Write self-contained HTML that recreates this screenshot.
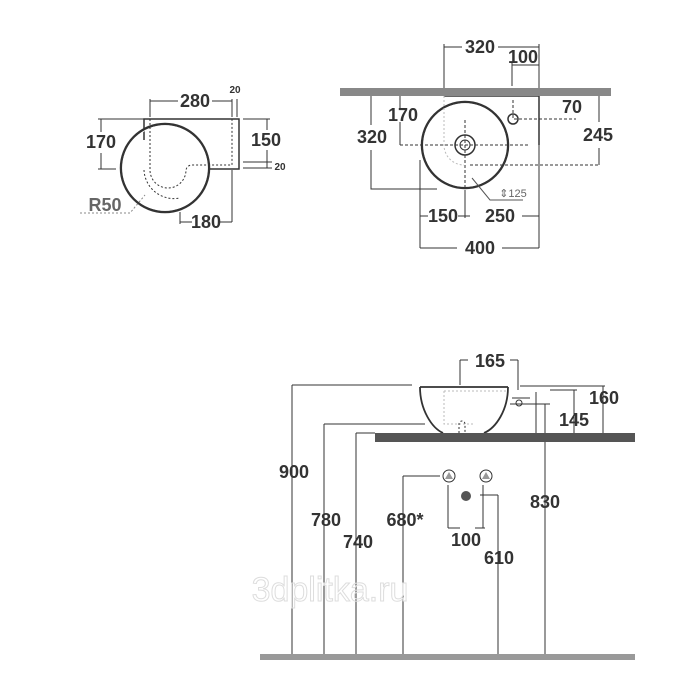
<!DOCTYPE html>
<html><head><style>
html,body{margin:0;padding:0;background:#fff;}
svg{display:block}
text{font-family:"Liberation Sans",sans-serif;font-weight:bold;fill:#333;}
</style></head><body>
<svg width="700" height="700" viewBox="0 0 700 700" xmlns="http://www.w3.org/2000/svg">
<g stroke="#333" stroke-width="1" fill="none">
<path d="M144 140 V119 H239 V169 H208" stroke-width="1.5"/>
<circle cx="165" cy="168" r="44" stroke-width="2.5"/>
<circle cx="165" cy="168" r="42.5" stroke="#fff" stroke-width="0.8"/>
<path d="M150 119 V170 A18 18 0 0 0 186 170 A6 6 0 0 1 192 165 H232 V119" stroke-dasharray="2 2"/>
<path d="M144 170 A30 30 0 0 0 180 198" stroke-dasharray="2 2"/>
<path d="M150 101 H178 M212 101 H232 M232 99 V117 M237 99 V117 M150 99 V117"/>
<path d="M101 119 V132 M101 153 V169 M98 119 H144 M98 169 H116"/>
<path d="M243 119 H270 M267 119 V130 M267 150 V168 M243 162 H272 M243 168 H272"/>
<path d="M180 222 H192 M220 222 H232 M232 170 V222 M180 212 V224"/>
<path d="M80 213 H130 L145 195" stroke-dasharray="2 2" stroke="#888"/>
<path d="M444 96 H539 V145" stroke-width="1.5"/>
<circle cx="465" cy="145" r="43" stroke-width="2.5"/>
<circle cx="465" cy="145" r="41.5" stroke="#fff" stroke-width="0.8"/>
<circle cx="465" cy="145" r="10" stroke-width="1.5"/>
<circle cx="465" cy="145" r="5"/>
<circle cx="513" cy="119" r="5" stroke-width="1.5"/>
<path d="M444 96 V145 A20 20 0 0 0 464 165" stroke="#bbb" stroke-dasharray="2 2"/>
<path d="M400 145 H530 M465 120 V190 M513 100 V119 H576 M470 165 H599" stroke-dasharray="3 2"/>
<path d="M444 47 H462 M498 47 H539 M444 44 V88 M539 44 V88 M512 65 H539 M512 63 V86"/>
<path d="M400 96 V108 M400 122 V145 M371 96 V125 M371 150 V189 H437"/>
<path d="M599 96 V122 M599 148 V165"/>
<path d="M420 160 V248 M465 190 V218 M539 145 V248 M420 216 H428 M458 216 H470 M522 216 H539 M420 248 H457 M502 248 H539"/>
<path d="M472 178 L490 200 H523" stroke="#555"/>
<path d="M420 387 H508 M420 387 C420 410 432 428 443 433 M508 387 C508 410 496 428 484 433" stroke-width="1.8"/>
<path d="M444 391 H508 M444 391 V424 H473" stroke="#bbb" stroke-dasharray="2 2"/>
<path d="M459 433 V424 A3 3 0 0 1 465 424 V433" stroke-dasharray="2 2"/>
<path d="M292 385 H412 M292 385 V654 M324 424 H425 M324 424 V654 M356 433 H375 M356 433 V654 M403 476 H440 M403 476 V654"/>
<path d="M545 404 V654 M510 404 H550 M498 495 V654 M480 495 H498"/>
<path d="M460 360 V385 M518 360 V390 M460 360 H468 M510 360 H518"/>
<path d="M520 386 H605 M603 386 V433 M550 390 H577 M574 390 V433 M536 392 V433 M512 398 H530"/>
<path d="M448 485 V528 M483 485 V528 M448 528 H460 M475 528 H485"/>
<circle cx="449" cy="476" r="6"/>
<circle cx="486" cy="476" r="6"/>
<circle cx="519" cy="403" r="3"/>
</g>
<path d="M449 472 L453 479 H445 Z M486 472 L490 479 H482 Z" fill="#999"/>
<circle cx="466" cy="496" r="5" fill="#555"/>
<rect x="340" y="88" width="271" height="8" fill="#888"/>
<rect x="375" y="433" width="260" height="9" fill="#555"/>
<rect x="260" y="654" width="375" height="6" fill="#999"/>
<text x="330" y="601" text-anchor="middle" font-size="34" style="font-weight:normal;fill:none;stroke:#ddd;stroke-width:1">3dplitka.ru</text>
<g font-size="18" text-anchor="middle">
<text x="195" y="107">280</text>
<text x="101" y="148">170</text>
<text x="266" y="146">150</text>
<text x="206" y="228">180</text>
<text x="105" y="211" style="fill:#666">R50</text>
<text x="480" y="53">320</text>
<text x="523" y="63">100</text>
<text x="403" y="121">170</text>
<text x="372" y="143">320</text>
<text x="572" y="113">70</text>
<text x="598" y="141">245</text>
<text x="443" y="222">150</text>
<text x="500" y="222">250</text>
<text x="480" y="254">400</text>
<text x="490" y="367">165</text>
<text x="604" y="404">160</text>
<text x="574" y="426">145</text>
<text x="294" y="478">900</text>
<text x="326" y="526">780</text>
<text x="358" y="548">740</text>
<text x="405" y="526">680*</text>
<text x="545" y="508">830</text>
<text x="466" y="546">100</text>
<text x="499" y="564">610</text>
</g>
<g font-size="10" text-anchor="middle">
<text x="235" y="93">20</text>
<text x="280" y="170">20</text>
<text x="513" y="197" style="font-weight:normal;fill:#666;font-size:11px">⇕125</text>
</g>
</svg>
</body></html>
